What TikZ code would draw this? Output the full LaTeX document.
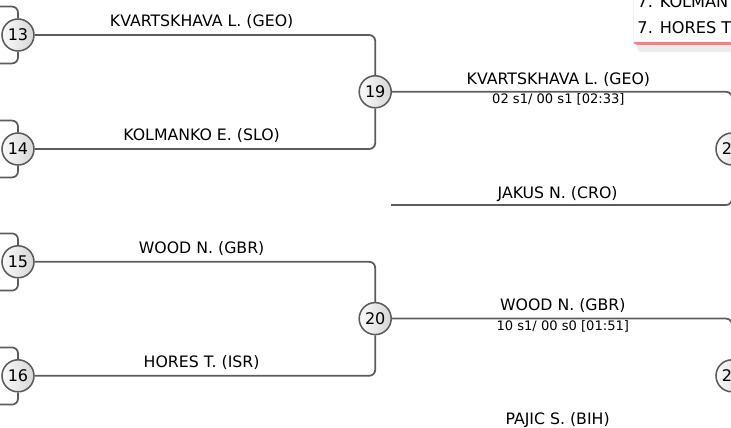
\documentclass[tikz,border=0pt]{standalone}
\usepackage{fontspec}
\setmainfont{DejaVu Sans}
\usepackage{xcolor}
\usepackage{tikz}
\usetikzlibrary{positioning,calc}
\definecolor{bracketgray}{RGB}{92,92,92}
\definecolor{rankred}{RGB}{240,130,130}
\tikzset{
  seed/.style={draw=bracketgray, line width=1.1pt, circle, minimum size=0.8cm, inner sep=0pt,
               left color=gray!4, right color=gray!32, font=\fontsize{11.4}{13}\selectfont},
  bline/.style={draw=bracketgray, line width=1.25pt, rounded corners=0.15cm},
  pname/.style={anchor=base, inner sep=0pt, font=\fontsize{11.2}{13}\selectfont},
  pscore/.style={anchor=base, inner sep=0pt, font=\fontsize{9.3}{11}\selectfont},
  rankline/.style={anchor=base west, inner sep=0pt, font=\fontsize{11.5}{13}\selectfont},
}

\begin{document}
\begin{tikzpicture}
    \clip (0,0) rectangle (18.275,10.675);
    % ranking box, top right
    \fill[gray!14, rounded corners=3pt] (15.93,9.37) rectangle (18.6,11.2);
    \fill[rankred, rounded corners=3pt] (15.83,9.55) rectangle (18.6,11.2);
    \fill[white] (15.83,9.63) rectangle (18.6,11.2);
    \draw[gray!12] (15.83,9.63) -- (15.83,11.2);
    \node[rankline] (rk1) at (15.93,10.475) {7. KOLMAN};
    \node[rankline] (rk2) at (15.93,9.825) {7. HORES T};
    % seeds
    \node[seed] (c13) at (0.45,9.80) {13};
    \node[seed] (c14) at (0.45,6.95) {14};
    \node[seed] (c15) at (0.45,4.13) {15};
    \node[seed] (c16) at (0.45,1.28) {16};
    \node[seed] (c19) at (9.38,8.38) {19};
    \node[seed] (c20) at (9.38,2.71) {20};
    \node[seed] (c21) at (18.3,6.95) {21};
    \node[seed] (c22) at (18.3,1.28) {22};
    % previous round
    \coordinate (p13a) at (-0.3,10.51);
    \coordinate (p13b) at (-0.3,9.09);
    \coordinate (p14a) at (-0.3,7.66);
    \coordinate (p14b) at (-0.3,6.24);
    \coordinate (p15a) at (-0.3,4.84);
    \coordinate (p15b) at (-0.3,3.41);
    \coordinate (p16a) at (-0.3,1.99);
    \coordinate (p16b) at (-0.3,0.56);
    \draw[bline] (p13a) -| (c13.north);
    \draw[bline] (p13b) -| (c13.south);
    \draw[bline] (p14a) -| (c14.north);
    \draw[bline] (p14b) -| (c14.south);
    \draw[bline] (p15a) -| (c15.north);
    \draw[bline] (p15b) -| (c15.south);
    \draw[bline] (p16a) -| (c16.north);
    \draw[bline] (p16b) -| (c16.south);
    % second round
    \draw[bline] (c13.east) -| (c19.north);
    \draw[bline] (c14.east) -| (c19.south);
    \draw[bline] (c15.east) -| (c20.north);
    \draw[bline] (c16.east) -| (c20.south);
    % third round
    \coordinate (jak) at (9.78,5.55);
    \coordinate (paj) at (9.78,-0.15);
    \draw[bline] (c19.east) -| (c21.north);
    \draw[bline] (jak) -| (c21.south);
    \draw[bline] (c20.east) -| (c22.north);
    \draw[bline] (paj) -| (c22.south);
    % names
    \node[pname] (n13) at (5.04,10.02) {KVARTSKHAVA L. (GEO)};
    \node[pname] (n14) at (5.04,7.17) {KOLMANKO E. (SLO)};
    \node[pname] (n15) at (5.04,4.35) {WOOD N. (GBR)};
    \node[pname] (n16) at (5.04,1.50) {HORES T. (ISR)};
    \node[pname] (n19) at (13.96,8.55) {KVARTSKHAVA L. (GEO)};
    \node[pscore] (s19) at (13.96,8.075) {02 s1/ 00 s1 [02:33]};
    \node[pname] (nj) at (13.94,5.70) {JAKUS N. (CRO)};
    \node[pname] (n20) at (14.07,2.925) {WOOD N. (GBR)};
    \node[pscore] (s20) at (14.07,2.425) {10 s1/ 00 s0 [01:51]};
    \node[pname] (np) at (13.94,0.075) {PAJIC S. (BIH)};
\end{tikzpicture}
\end{document}
